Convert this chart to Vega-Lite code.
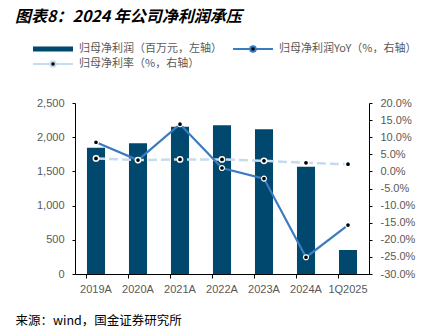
{
  "$schema": "https://vega.github.io/schema/vega-lite/v6.json",
  "autosize": {"type": "none"},
  "width": 294,
  "height": 171,
  "padding": {"left": 75, "top": 103, "right": 71, "bottom": 56},
  "background": "white",
  "config": {"view": {"stroke": null}, "font": "Liberation Sans",
    "legend": {"title": null, "orient": "none", "symbolSize": 1600, "labelFont": "Noto Sans CJK SC", "labelFontSize": 11, "labelColor": "#595959", "labelOffset": 5, "symbolStrokeWidth": 2, "symbolOpacity": 1},
    "axisRight": {"labelOverlap": false, "labelFontSize": 11, "labelColor": "#595959", "labelPadding": 8, "tickSize": 3, "tickColor": "#000000", "domainColor": "#000000", "grid": false}
  },
  "title": {
    "text": "图表8：2024 年公司净利润承压",
    "font": "Noto Sans CJK SC",
    "fontSize": 16,
    "fontWeight": "bold",
    "fontStyle": "italic",
    "color": "#000000",
    "anchor": "start",
    "frame": "group",
    "dx": -60,
    "offset": -10,
    "baseline": "alphabetic"
  },
  "data": {
    "values": [
      {"period": "2019A", "profit": 1846, "yoy": 0.085, "margin": 0.038},
      {"period": "2020A", "profit": 1910, "yoy": 0.033, "margin": 0.033},
      {"period": "2021A", "profit": 2153, "yoy": 0.138, "margin": 0.035},
      {"period": "2022A", "profit": 2174, "yoy": 0.010, "margin": 0.035},
      {"period": "2023A", "profit": 2115, "yoy": -0.021, "margin": 0.031},
      {"period": "2024A", "profit": 1569, "yoy": -0.251, "margin": 0.025},
      {"period": "1Q2025", "profit": 351, "yoy": -0.157, "margin": 0.021}
    ]
  },
  "encoding": {
    "x": {
      "field": "period",
      "type": "nominal",
      "sort": null,
      "scale": {"paddingInner": 0.57, "paddingOuter": 0.285},
      "axis": {
        "title": "来源：wind，国金证券研究所",
        "titleFont": "Noto Sans CJK SC",
        "titleFontSize": 12.5,
        "titleFontWeight": "normal",
        "titleColor": "#000000",
        "titleX": -60,
        "titleY": 46,
        "titleAlign": "left",
        "titleAnchor": "start",
        "titleBaseline": "middle",
        "labelAngle": 0,
        "labelFontSize": 11,
        "labelColor": "#595959",
        "labelPadding": 5,
        "bandPosition": 0,
        "tickSize": 4,
        "tickColor": "#000000",
        "domainColor": "#000000",
        "grid": false
      }
    }
  },
  "layer": [
    {
      "mark": {"type": "bar"},
      "encoding": {
        "y": {
          "field": "profit",
          "type": "quantitative",
          "scale": {"domain": [0, 2500]},
          "axis": {
            "title": null,
            "values": [0, 500, 1000, 1500, 2000, 2500],
            "format": ",.0f",
            "labelFontSize": 11,
            "labelColor": "#595959",
            "labelPadding": 8,
            "labelOverlap": false,
            "tickSize": 3,
            "tickColor": "#000000",
            "domainColor": "#000000",
            "grid": false
          }
        },
        "fill": {
          "datum": "归母净利润（百万元，左轴）",
          "scale": {"range": ["#00486e"]},
          "legend": {
            "legendX": -43,
            "legendY": -75,
            "symbolType": "M-1,-0.12H1V0.12H-1Z"
          }
        }
      }
    },
    {
      "layer": [
        {
          "mark": {"type": "line", "strokeWidth": 2.5, "strokeDash": [9, 4]},
          "encoding": {
            "y": {
              "field": "margin",
              "type": "quantitative",
              "scale": {"domain": [-0.3, 0.2]},
              "axis": {"orient": "right", "title": null, "values": [-0.3, -0.25, -0.2, -0.15, -0.1, -0.05, 0, 0.05, 0.1, 0.15, 0.2], "format": ".1%", "labelExpr": "replace(datum.label, '−', '-')"}
            },
            "color": {
              "datum": "归母净利率（%，右轴）",
              "scale": {"range": ["#c6dbef"]},
              "legend": {
                "legendX": -43,
                "legendY": -60,
                "symbolType": "M-1,0H-0.14M0.14,0H1M0.14,0A0.14,0.14 0 1,1 -0.14,0A0.14,0.14 0 1,1 0.14,0Z",
                "symbolFillColor": "#000000",
                "symbolDash": []
              }
            }
          }
        },
        {
          "mark": {"type": "line", "strokeWidth": 2.2},
          "encoding": {
            "y": {
              "field": "yoy",
              "type": "quantitative",
              "scale": {"domain": [-0.3, 0.2]},
              "axis": {"orient": "right", "title": null, "values": [-0.3, -0.25, -0.2, -0.15, -0.1, -0.05, 0, 0.05, 0.1, 0.15, 0.2], "format": ".1%", "labelExpr": "replace(datum.label, '−', '-')"}
            },
            "stroke": {
              "datum": "归母净利润YoY（%，右轴）",
              "scale": {"range": ["#3b7bbf"]},
              "legend": {
                "legendX": 157,
                "legendY": -75,
                "symbolType": "M-1,0H-0.14M0.14,0H1M0.14,0A0.14,0.14 0 1,1 -0.14,0A0.14,0.14 0 1,1 0.14,0Z",
                "symbolFillColor": "#000000"
              }
            }
          }
        },
        {
          "mark": {"type": "point", "filled": true, "color": "#000000", "stroke": "#ffffff", "strokeWidth": 1.5, "size": 28, "opacity": 1},
          "encoding": {
            "y": {
              "field": "margin",
              "type": "quantitative",
              "scale": {"domain": [-0.3, 0.2]},
              "axis": {"orient": "right", "title": null, "values": [-0.3, -0.25, -0.2, -0.15, -0.1, -0.05, 0, 0.05, 0.1, 0.15, 0.2], "format": ".1%", "labelExpr": "replace(datum.label, '−', '-')"}
            }
          }
        },
        {
          "mark": {"type": "point", "filled": true, "color": "#000000", "stroke": "#ffffff", "strokeWidth": 1.2, "size": 24, "opacity": 1},
          "encoding": {
            "y": {
              "field": "yoy",
              "type": "quantitative",
              "scale": {"domain": [-0.3, 0.2]},
              "axis": {"orient": "right", "title": null, "values": [-0.3, -0.25, -0.2, -0.15, -0.1, -0.05, 0, 0.05, 0.1, 0.15, 0.2], "format": ".1%", "labelExpr": "replace(datum.label, '−', '-')"}
            }
          }
        }
      ]
    }
  ],
  "resolve": {"scale": {"y": "independent"}}
}
